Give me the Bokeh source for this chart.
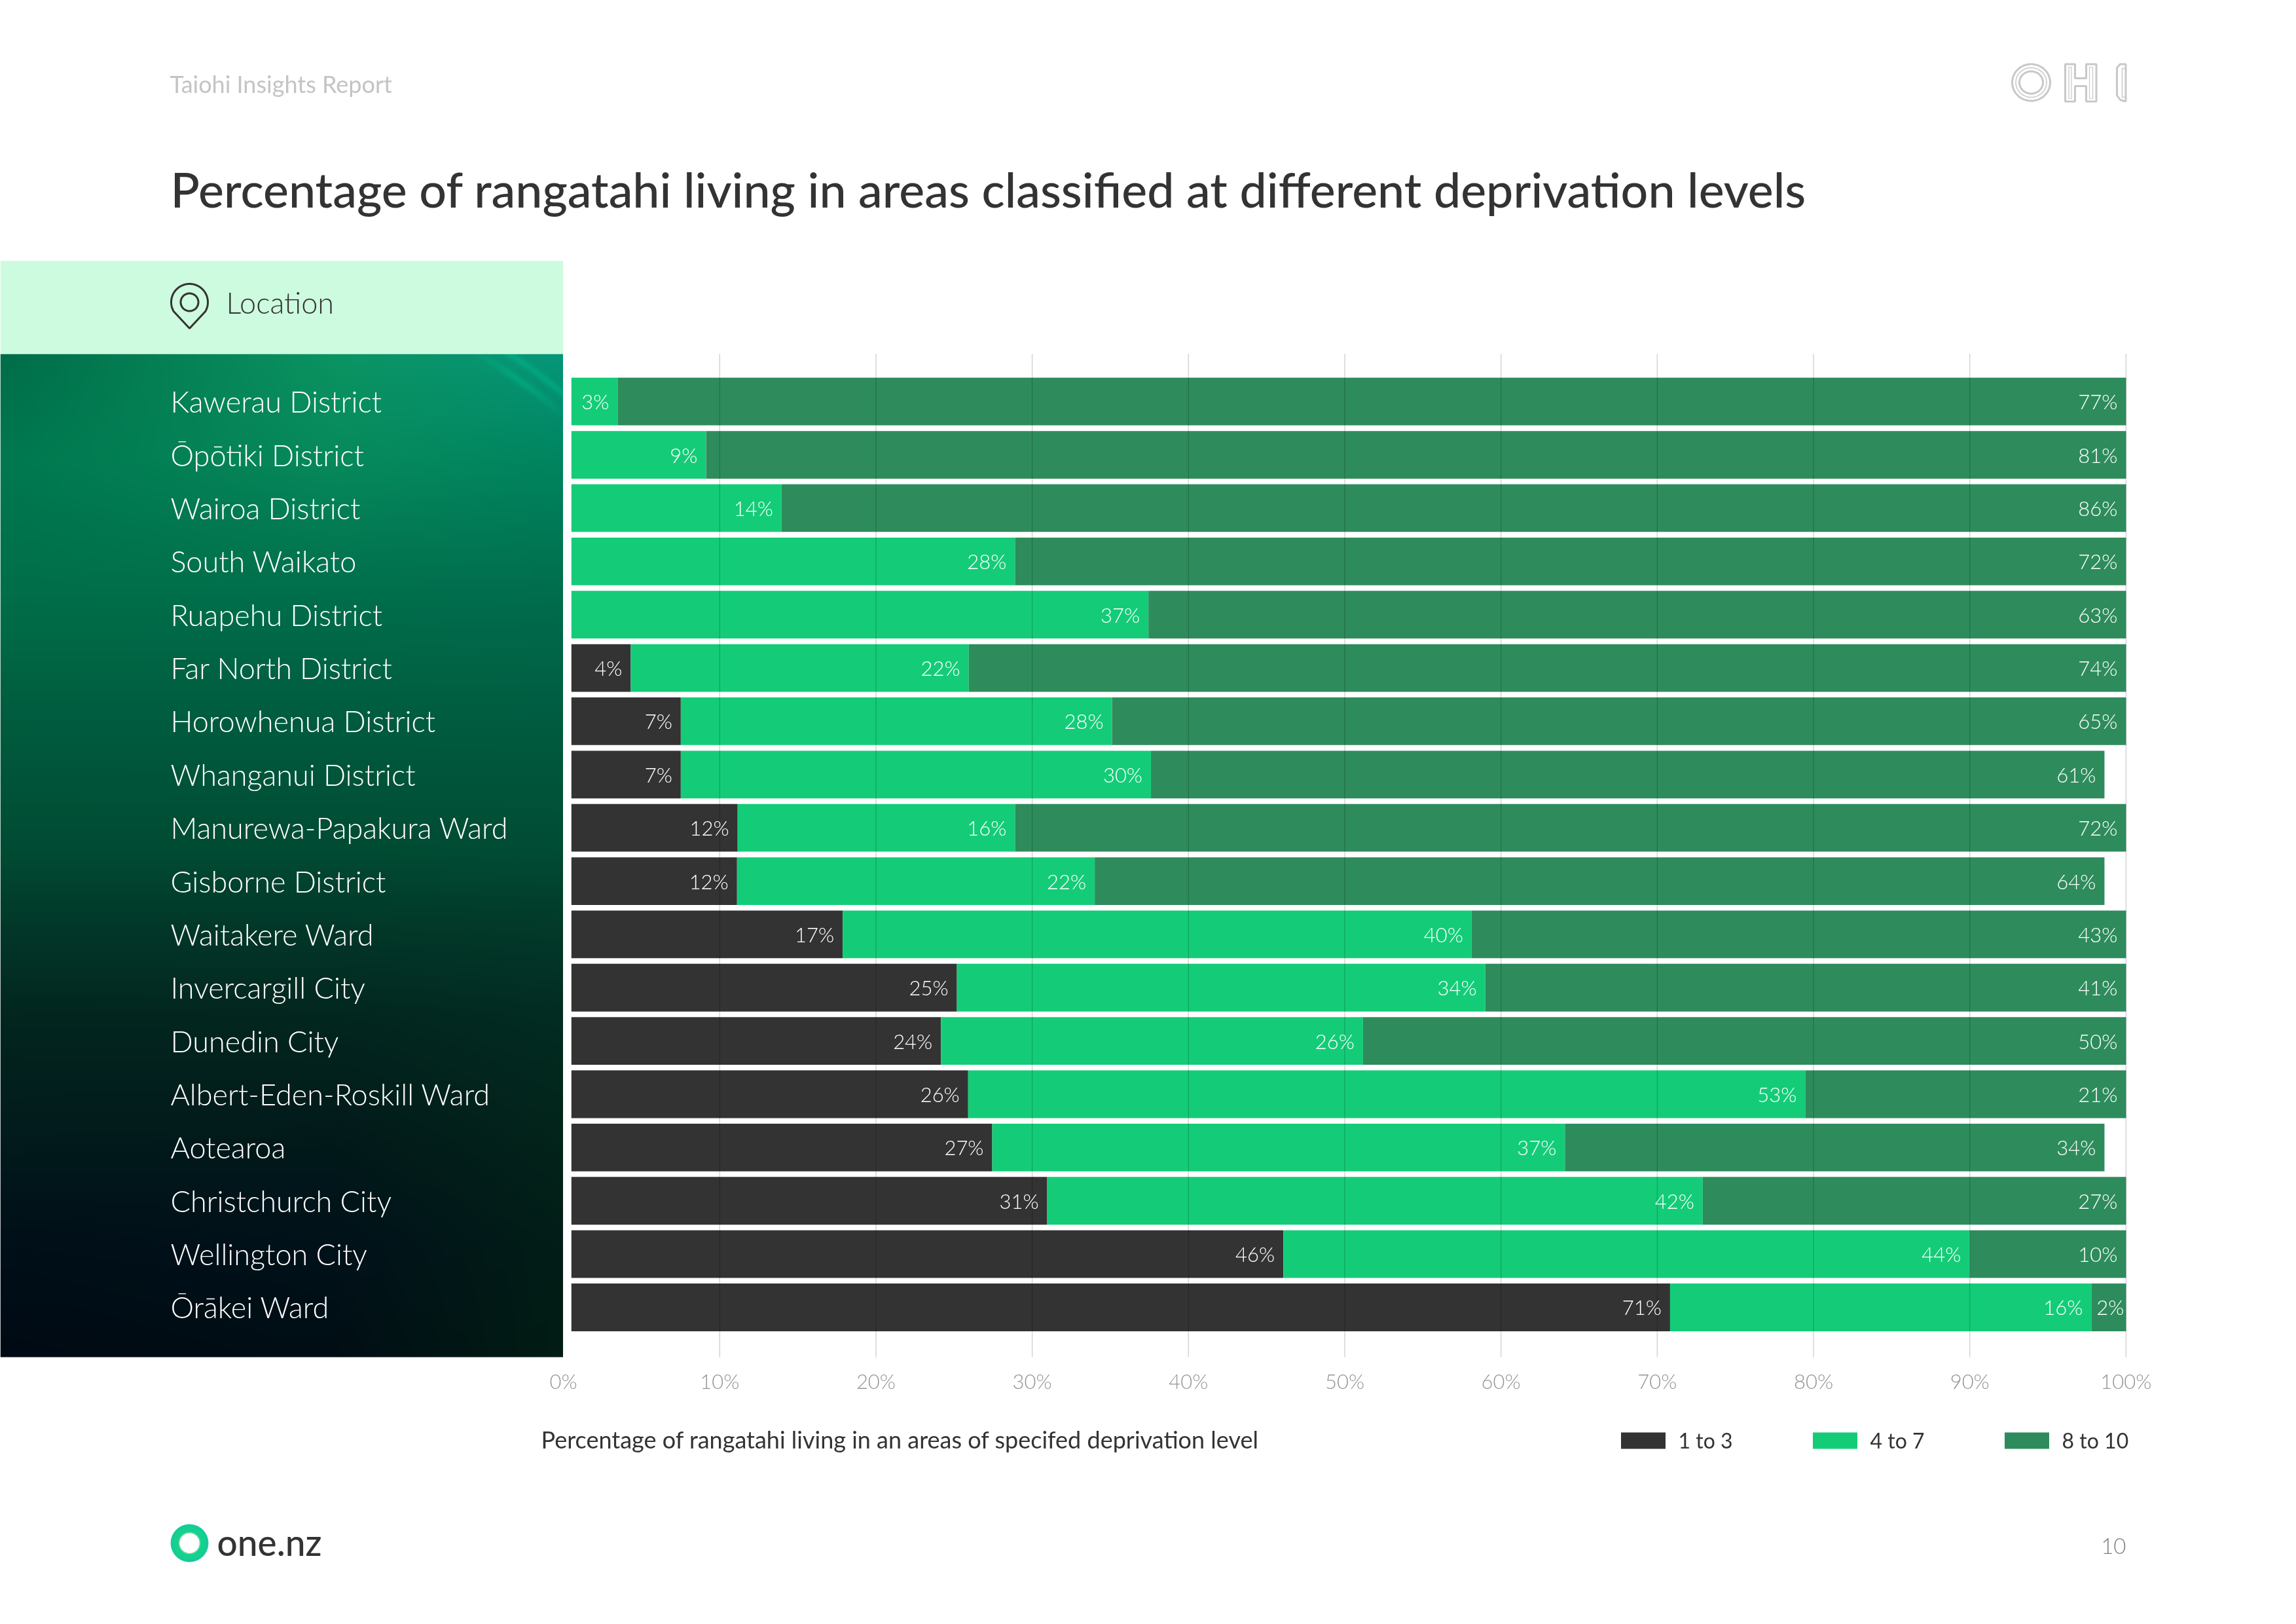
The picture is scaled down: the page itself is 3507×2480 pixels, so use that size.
import numpy as np
from bokeh.core.properties import value
from bokeh.embed import file_html
from bokeh.resources import INLINE
from bokeh.plotting import figure
from bokeh.models import (BoxAnnotation, ColumnDataSource, FixedTicker, Label, LabelSet, LinearAxis,
                          Legend, LegendItem, PolyAnnotation, PrintfTickFormatter, Range1d)

# ---------------------------------------------------------------- data
locations = ["Kawerau District", "Ōpōtiki District", "Wairoa District", "South Waikato",
             "Ruapehu District", "Far North District", "Horowhenua District", "Whanganui District",
             "Manurewa-Papakura Ward", "Gisborne District", "Waitakere Ward", "Invercargill City",
             "Dunedin City", "Albert-Eden-Roskill Ward", "Aotearoa", "Christchurch City",
             "Wellington City", "Ōrākei Ward"]
# Bar segments as they are drawn against the axis (they do not quite follow the printed labels).
bar_start = 0.51
low_end = [0.51, 0.51, 0.51, 0.51, 0.51, 4.31, 7.51, 7.51, 11.15, 11.11, 17.87, 25.18,
           24.16, 25.90, 27.44, 30.96, 46.07, 70.82]
mid_end = [3.47, 9.13, 13.96, 28.90, 37.44, 25.94, 35.11, 37.60, 28.90, 34.00, 58.12, 58.99,
           51.17, 79.47, 64.09, 72.91, 89.99, 97.78]
high_end = [100, 100, 100, 100, 100, 100, 100, 98.62, 100, 98.62, 100, 100,
            100, 100, 98.62, 100, 100, 100]
low_labels = ["", "", "", "", "", "4%", "7%", "7%", "12%", "12%", "17%", "25%",
              "24%", "26%", "27%", "31%", "46%", "71%"]
mid_labels = ["3%", "9%", "14%", "28%", "37%", "22%", "28%", "30%", "16%", "22%", "40%", "34%",
              "26%", "53%", "37%", "42%", "44%", "16%"]
high_labels = ["77%", "81%", "86%", "72%", "63%", "74%", "65%", "61%", "72%", "64%", "43%", "41%",
               "50%", "21%", "34%", "27%", "10%", "2%"]
ticks = [0, 10, 20, 30, 40, 50, 60, 70, 80, 90, 100]
series_names = ["1 to 3", "4 to 7", "8 to 10"]

TITLE = "Percentage of rangatahi living in areas classified at different deprivation levels"
HEADER = "Taiohi Insights Report"
AXIS_TITLE = "Percentage of rangatahi living in an areas of specifed deprivation level"

# ---------------------------------------------------------------- style
W, H = 3507, 2480
FONT = "Lato"
LIGHT = "'Lato Light', Lato"
MEDIUM = "'Lato Medium', Lato"
DARK, MID, DEEP = "#333333", "#14cc78", "#2e8c5c"
X0, K = 860.1, 23.868          # px of 0 %, px per 1 %
TOP, BOTTOM = 540, 2072
ROW0, PITCH = 612.7, 81.37


def yv(px):
    """row coordinate of a page pixel height"""
    return (px - ROW0) / PITCH


p = figure(width=W, height=H, output_backend="svg", toolbar_location=None,
           x_range=Range1d(-X0 / K, (W - X0) / K), y_range=Range1d(yv(H), yv(0)),
           x_axis_location=None, y_axis_location=None,
           min_border_left=0, min_border_right=0, min_border_top=0, min_border_bottom=0,
           outline_line_color=None, background_fill_color="white", border_fill_color="white")
p.styles = {"position": "fixed", "left": "0px", "top": "0px"}
p.grid.visible = False

ax = LinearAxis(fixed_location=yv(BOTTOM))
ax.ticker = FixedTicker(ticks=ticks)
ax.formatter = PrintfTickFormatter(format="%d%%")
ax.axis_line_color = None
ax.major_tick_line_color = None
ax.minor_tick_line_color = None
ax.major_label_text_font = LIGHT
ax.major_label_text_font_size = "31px"
ax.major_label_text_color = "#959595"
ax.major_label_standoff = 11
p.add_layout(ax, "below")


# ---------------------------------------------------------------- side panel background
def hexrgb(s):
    return [int(s[i:i + 2], 16) for i in (1, 3, 5)]


stops_y = [540, 700, 900, 1100, 1300, 1400, 1550, 1750, 1900, 2072]
stops_l = ["#006d48", "#00784f", "#006f49", "#005c3e", "#014b33", "#023a2a", "#02261f", "#021a1c", "#010f18", "#000a14"]
stops_c = ["#0b9462", "#078a5c", "#016f4c", "#005c3f", "#014b33", "#023a2a", "#03271f", "#02191a", "#01121a", "#010e14"]
stops_r = ["#06967a", "#008560", "#016e4d", "#005c40", "#014c34", "#023c2b", "#032c22", "#03241a", "#021d17", "#011d14"]
pw, ph = 430, 766
yy, xx = np.mgrid[0:ph, 0:pw]
ypx = TOP + (yy + 0.5) * (BOTTOM - TOP) / ph
xpx = (xx + 0.5) * 859.5 / pw
rgb = np.zeros((ph, pw, 3))
for ch in range(3):
    cl = np.interp(ypx[:, 0], stops_y, [hexrgb(c)[ch] for c in stops_l])[:, None]
    cc = np.interp(ypx[:, 0], stops_y, [hexrgb(c)[ch] for c in stops_c])[:, None]
    cr = np.interp(ypx[:, 0], stops_y, [hexrgb(c)[ch] for c in stops_r])[:, None]
    t = xpx / 859.5
    rgb[:, :, ch] = np.where(t < 0.6, cl + (cc - cl) * t / 0.6, cc + (cr - cc) * (t - 0.6) / 0.4)
# faint light streaks in the panel's top right corner
dist = np.hypot(xpx - 430, ypx - 1090)
streak = sum(np.exp(-((dist - r) / 6.0) ** 2) for r in (625, 650))
streak *= np.clip((xpx - 720) / 60, 0, 1) * np.clip((640 - ypx) / 50, 0, 1)
teal = np.array([0, 180, 135])
rgb += streak[:, :, None] * (teal - rgb) * 0.55
img = np.zeros((ph, pw), dtype=np.uint32)
view = img.view(dtype=np.uint8).reshape((ph, pw, 4))
view[:, :, :3] = np.clip(rgb, 0, 255).astype(np.uint8)
view[:, :, 3] = 255
p.image_rgba(image=[img], x=-X0 / K, y=yv(TOP), dw=859.5 / K, dh=yv(BOTTOM) - yv(TOP))

p.add_layout(BoxAnnotation(left=0, right=859.5, top=398, bottom=TOP, left_units="canvas", right_units="canvas",
                           top_units="canvas", bottom_units="canvas", fill_color="#cdfbdf", fill_alpha=1,
                           line_color=None, level="glyph"))

# ---------------------------------------------------------------- bars
rows = list(range(len(locations)))
h_bar = 72.8 / PITCH
src = ColumnDataSource(dict(y=rows, start=[bar_start] * len(rows), low=low_end, mid=mid_end, high=high_end))
r_low = p.hbar(y="y", left="start", right="low", height=h_bar, color=DARK, line_color=None, source=src)
r_mid = p.hbar(y="y", left="low", right="mid", height=h_bar, color=MID, line_color=None, source=src)
r_high = p.hbar(y="y", left="mid", right="high", height=h_bar, color=DEEP, line_color=None, source=src)

# gridlines from 10 % up; they run over the bars
p.segment(x0=ticks[1:], x1=ticks[1:], y0=yv(TOP), y1=yv(BOTTOM), line_color="black", line_alpha=0.17, line_width=1.5)

leg = Legend(items=[LegendItem(label=n, renderers=[r]) for n, r in zip(series_names, (r_low, r_mid, r_high))],
             orientation="horizontal", location=(2466.5, 261), glyph_width=85, glyph_height=31,
             label_standoff=12, spacing=113, padding=0, margin=0, border_line_color=None,
             background_fill_alpha=0, label_text_font=FONT, label_text_font_size="32px",
             label_text_color=DARK, label_height=31, label_text_baseline="middle")
p.add_layout(leg, "center")


# ---------------------------------------------------------------- in-bar labels
def label_set(ends, texts):
    offs = []
    for e, t in zip(ends, texts):
        offs.append(-3 if t == "2%" else -13)
    s = ColumnDataSource(dict(x=ends, y=rows, text=texts, off=offs))
    return LabelSet(x="x", y="y", text="text", source=s, x_offset="off", y_offset=0, text_align="right",
                    text_baseline="middle", text_color="white", text_font=value(LIGHT), text_font_size="31px",
                    level="overlay")


p.add_layout(label_set(low_end, low_labels))
p.add_layout(label_set(mid_end, mid_labels))
p.add_layout(label_set(high_end, high_labels))

loc_src = ColumnDataSource(dict(x=[(260 - X0) / K] * len(rows), y=rows, text=locations))
p.add_layout(LabelSet(x="x", y="y", text="text", source=loc_src, text_baseline="middle",
                      text_color="white", text_font=value(LIGHT), text_font_size="45px", level="overlay"))


# ---------------------------------------------------------------- page texts
def txt(x, y, s, size, color, align="left", style="normal", font=FONT):
    p.add_layout(Label(x=x, y=y, x_units="canvas", y_units="canvas", text=s, text_font=font,
                       text_font_size=f"{size}px", text_color=color, text_align=align,
                       text_baseline="middle", text_font_style=style, level="overlay"))


txt(259, 127, HEADER, 36, "#c4c4c4")
txt(260, 288, TITLE, 73.5, DARK, font=MEDIUM)
txt(345, 461, "Location", 45, DARK, font=LIGHT)
txt(826, 2197, AXIS_TITLE, 36, DARK)
txt(331, 2354, "one.nz", 55, DARK, font=MEDIUM)
txt(3247, 2360, "10", 33, "#808080", align="right", font=LIGHT)


# ---------------------------------------------------------------- icons and logos
def poly(xs, ys, color, width=3.0, fill=None, alpha=1.0):
    p.add_layout(PolyAnnotation(xs=list(map(float, xs)), ys=list(map(float, ys)), xs_units="canvas", ys_units="canvas",
                                line_color=color, line_width=width, line_alpha=alpha,
                                fill_color=fill, fill_alpha=1 if fill else 0, level="overlay"))


def ellipse(cx, cy, rx, ry, color, width=3.0, fill=None, alpha=1.0):
    a = np.linspace(0, 2 * np.pi, 73)[:-1]
    poly(cx + rx * np.cos(a), cy + ry * np.sin(a), color, width, fill, alpha)


# location pin
a = np.radians(np.linspace(150, 390, 50))
poly(np.r_[289 + 28 * np.cos(a), 289], np.r_[461 + 28 * np.sin(a), 501], DARK, 3)
ellipse(289, 461, 13.5, 13.5, DARK, 3)

# one.nz ring
ellipse(289, 2356, 22, 22, "#14d28c", 13)
ellipse(289, 2356, 27, 27, "#12c8a0", 4, alpha=0.7)
ellipse(289, 2356, 16, 16, "#8fd8c0", 2, alpha=0.6)

# OHI logo
GREY = "#c8c8c8"
ellipse(3102, 125.5, 29, 28, GREY, 3)
ellipse(3102, 125.5, 23.5, 22.5, GREY, 1.5)
ellipse(3102, 125.5, 18, 17, GREY, 3)
poly([3154, 3169, 3169, 3186, 3186, 3201.5, 3201.5, 3186, 3186, 3169, 3169, 3154],
     [97.5, 97.5, 119, 119, 97.5, 97.5, 154.5, 154.5, 131, 131, 154.5, 154.5], GREY, 3)
poly([3159.5, 3163.5, 3163.5, 3159.5], [102, 102, 150, 150], GREY, 1.2)
poly([3191, 3196, 3196, 3191], [102, 102, 150, 150], GREY, 1.2)
poly([3246.5, 3238, 3233, 3233, 3238, 3246.5], [97.5, 97.5, 103, 145, 152, 154.5], GREY, 3)
poly([3246.5, 3241, 3241, 3246.5], [104, 104, 148, 148], GREY, 1.5)

open("out.html", "w").write(file_html(p, INLINE))
